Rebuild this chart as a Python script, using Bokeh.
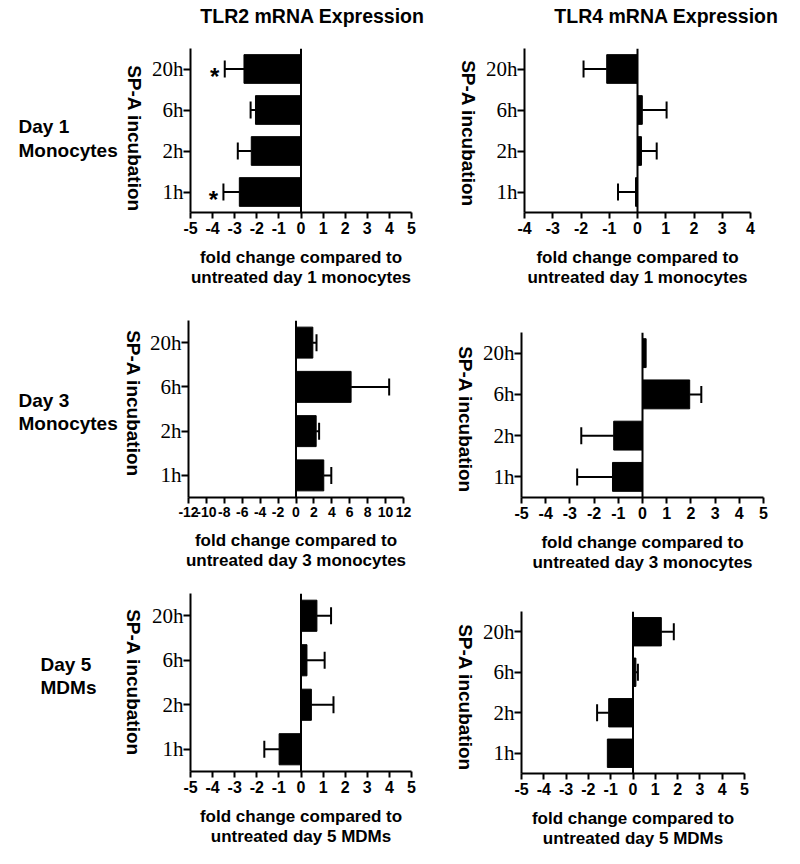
import math
from bokeh.plotting import figure
from bokeh.models import Range1d, FixedTicker, Span, Whisker, TeeHead, ColumnDataSource
from bokeh.layouts import column, row
from bokeh.embed import file_html
from bokeh.resources import INLINE
from bokeh.core.properties import value

# ---------------- data ----------------
times = ["1h", "2h", "6h", "20h"]

tlr2_day1 = [-2.79, -2.25, -2.06, -2.58]
tlr2_day1_sem = [0.72, 0.61, 0.22, 0.87]
tlr2_day1_sig = ["*", "", "", "*"]

tlr4_day1 = [-0.07, 0.14, 0.17, -1.09]
tlr4_day1_sem = [0.62, 0.54, 0.86, 0.82]

tlr2_day3 = [3.10, 2.25, 6.15, 1.88]
tlr2_day3_sem = [0.84, 0.33, 4.25, 0.41]

tlr4_day3 = [-1.24, -1.19, 1.95, 0.15]
tlr4_day3_sem = [1.46, 1.34, 0.48, 0.0]

tlr2_day5 = [-0.99, 0.47, 0.27, 0.72]
tlr2_day5_sem = [0.67, 1.00, 0.80, 0.64]

tlr4_day5 = [-1.15, -1.09, 0.13, 1.27]
tlr4_day5_sem = [0.0, 0.52, 0.09, 0.56]

ticks_5 = [-5, -4, -3, -2, -1, 0, 1, 2, 3, 4, 5]
ticks_4 = [-4, -3, -2, -1, 0, 1, 2, 3, 4]
ticks_12 = [-12, -10, -8, -6, -4, -2, 0, 2, 4, 6, 8, 10, 12]

col_titles = ["TLR2 mRNA Expression", "TLR4 mRNA Expression"]
row_labels = [("Day 1", "Monocytes"), ("Day 3", "Monocytes"), ("Day 5", "MDMs")]
xlabels = ["fold change compared to\nuntreated day 1 monocytes",
           "fold change compared to\nuntreated day 3 monocytes",
           "fold change compared to\nuntreated day 5 MDMs"]
ylabel = "SP-A incubation"

SANS = "Liberation Sans"
SERIF = "Liberation Serif"


def panel(width, height, bl, br, bt, bb, ticks, vals, sems, xlabel, sig=None, tick_size="16px"):
    p = figure(width=width, height=height, y_range=times,
               x_range=Range1d(ticks[0], ticks[-1]),
               output_backend="svg", toolbar_location=None,
               min_border_left=bl, min_border_right=br,
               min_border_top=bt, min_border_bottom=bb)
    p.outline_line_color = None
    p.xgrid.visible = False
    p.ygrid.visible = False

    src = ColumnDataSource(dict(t=times, v=vals))
    p.hbar(y="t", left=0, right="v", height=0.7, source=src,
           fill_color="black", line_color="black")

    lo, hi, tt = [], [], []
    for i, (v, s) in enumerate(zip(vals, sems)):
        if s > 0:
            lo.append(v)
            hi.append(v + s if v >= 0 else v - s)
            tt.append(times[i])
    wsrc = ColumnDataSource(dict(base=tt, lower=lo, upper=hi))
    p.add_layout(Whisker(base="base", lower="lower", upper="upper", dimension="width",
                         source=wsrc, line_width=2, line_color="black",
                         lower_head=None,
                         upper_head=TeeHead(size=17, line_width=2, line_color="black")))

    if sig is not None:
        sx, sy, st = [], [], []
        for i, (v, s) in enumerate(zip(vals, sems)):
            if sig[i]:
                sx.append(v - s if v < 0 else v + s)
                sy.append(times[i])
                st.append(sig[i])
        p.text(x=sx, y=sy, text=st, text_align="center", text_baseline="middle",
               x_offset=-10, y_offset=7, text_font_size="24px", text_font=value(SANS),
               text_font_style="bold", text_color="black")

    p.add_layout(Span(location=0, dimension="height", line_color="black", line_width=2))

    ax = p.xaxis[0]
    ax.ticker = FixedTicker(ticks=ticks)
    ax.major_label_overrides = {t: str(t) for t in ticks}
    ax.minor_tick_line_color = None
    ax.major_tick_in = 0
    ax.major_tick_out = 6
    ax.major_tick_line_width = 2
    ax.axis_line_width = 2
    ax.major_label_text_font = SANS
    ax.major_label_text_font_style = "bold"
    ax.major_label_text_font_size = tick_size
    ax.major_label_text_color = "black"
    ax.major_label_standoff = 3
    ax.axis_label = xlabel
    ax.axis_label_text_font = SANS
    ax.axis_label_text_font_style = "bold"
    ax.axis_label_text_font_size = "17px"
    ax.axis_label_text_line_height = 1.1
    ax.axis_label_text_color = "black"
    ax.axis_label_standoff = 11

    ay = p.yaxis[0]
    ay.major_tick_in = 0
    ay.major_tick_out = 7
    ay.major_tick_line_width = 2
    ay.axis_line_width = 2
    ay.major_label_text_font = SERIF
    ay.major_label_text_font_size = "21px"
    ay.major_label_text_color = "black"
    ay.major_label_standoff = 0
    return p


def text_fig(width, height, items):
    """items: (x from left, y from top, text, size, rotate, align)"""
    f = figure(width=width, height=height, x_range=Range1d(0, width),
               y_range=Range1d(0, height), x_axis_type=None, y_axis_type=None,
               output_backend="svg", toolbar_location=None, min_border=0)
    f.outline_line_color = None
    f.xgrid.visible = False
    f.ygrid.visible = False
    for (x, y, txt, size, rot, align) in items:
        f.text(x=[x], y=[height - y], text=[txt], angle=(-math.pi / 2 if rot else 0),
               text_align=align, text_baseline="middle", text_font_size=size,
               text_font=value(SANS), text_font_style="bold", text_color="black")
    return f


# layout: left label strip | left panel | right label strip | right panel
LLW, LPW, RLW, RPW = 146, 302, 31, 313
H0, H1, H2, H3 = 38, 258, 282, 278

header = text_fig(LLW + LPW + RLW + RPW, H0, [
    (312, 15, col_titles[0], "19.5px", False, "center"),
    (666, 15, col_titles[1], "19.5px", False, "center"),
])

p1 = panel(LPW, H1, 44, 37, 10, 84, ticks_5, tlr2_day1, tlr2_day1_sem, xlabels[0], sig=tlr2_day1_sig)
p2 = panel(RPW, H1, 45, 42, 10, 84, ticks_4, tlr4_day1, tlr4_day1_sem, xlabels[0])
p3 = panel(LPW, H2, 40, 45, 24, 81, ticks_12, tlr2_day3, tlr2_day3_sem, xlabels[1], tick_size="14px")
p4 = panel(RPW, H2, 40, 29, 36, 81, ticks_5, tlr4_day3, tlr4_day3_sem, xlabels[1])
p5 = panel(LPW, H3, 44, 37, 15, 85, ticks_5, tlr2_day5, tlr2_day5_sem, xlabels[2])
p6 = panel(RPW, H3, 39, 48, 33, 83, ticks_5, tlr4_day5, tlr4_day5_sem, xlabels[2])

l1 = text_fig(LLW, H1, [(18, 88, row_labels[0][0], "19px", False, "left"),
                        (18, 112, row_labels[0][1], "19px", False, "left"),
                        (134, 100, ylabel, "19px", True, "center")])
l2 = text_fig(LLW, H2, [(18, 104, row_labels[1][0], "19px", False, "left"),
                        (18, 127, row_labels[1][1], "19px", False, "left"),
                        (132.5, 107, ylabel, "19px", True, "center")])
l3 = text_fig(LLW, H3, [(40, 86, row_labels[2][0], "19px", False, "left"),
                        (40, 109, row_labels[2][1], "19px", False, "left"),
                        (132.5, 104, ylabel, "19px", True, "center")])
r1 = text_fig(RLW, H1, [(20, 95, ylabel, "19px", True, "center")])
r2 = text_fig(RLW, H2, [(16.5, 123, ylabel, "19px", True, "center")])
r3 = text_fig(RLW, H3, [(16.5, 119, ylabel, "19px", True, "center")])


def cell(f):
    # wrap each figure so that frames in a row are not aligned to each other
    return column(f)


layout = column(header,
                row(cell(l1), cell(p1), cell(r1), cell(p2)),
                row(cell(l2), cell(p3), cell(r2), cell(p4)),
                row(cell(l3), cell(p5), cell(r3), cell(p6)))

open("out.html", "w").write(file_html(layout, INLINE))
